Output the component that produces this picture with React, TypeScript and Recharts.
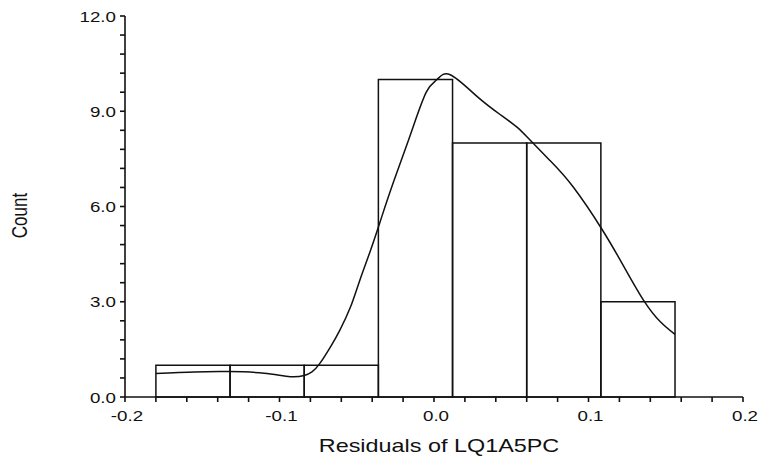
import React from "react";
import { ComposedChart, XAxis, YAxis, Line, ReferenceArea } from "recharts";

const binStarts = [-0.18, -0.132, -0.084, -0.036, 0.012, 0.06, 0.108];
const binEnds = [-0.132, -0.084, -0.036, 0.012, 0.06, 0.108, 0.156];
const counts = [1, 1, 1, 10, 8, 8, 3];

const curveX = [
  -0.18, -0.155, -0.133, -0.11, -0.093, -0.084, -0.079, -0.074, -0.067, -0.061,
  -0.054, -0.048, -0.041, -0.034, -0.026, -0.015, -0.005, 0.002, 0.0105, 0.028,
  0.043, 0.0537, 0.062, 0.075, 0.09, 0.109, 0.123, 0.136, 0.1465, 0.156,
];
const curveY = [
  0.74, 0.79, 0.8, 0.75, 0.64, 0.68, 0.79, 1.05, 1.58, 2.1,
  2.84, 3.68, 4.63, 5.65, 6.8, 8.3, 9.6, 10.0, 10.15, 9.46,
  8.89, 8.5, 8.1, 7.45, 6.62, 5.26, 4.1, 3.02, 2.37, 1.97,
];

const xTicks = [
  -0.2, -0.18, -0.16, -0.14, -0.12, -0.1, -0.08, -0.06, -0.04, -0.02, 0,
  0.02, 0.04, 0.06, 0.08, 0.1, 0.12, 0.14, 0.16, 0.18, 0.2,
];
const xLabels = ["-0.2", "-0.1", "0.0", "0.1", "0.2"];
const xLabelValues = [-0.2, -0.1, 0, 0.1, 0.2];

const yTicks = [
  0, 0.6, 1.2, 1.8, 2.4, 3, 3.6, 4.2, 4.8, 5.4, 6, 6.6, 7.2, 7.8, 8.4, 9,
  9.6, 10.2, 10.8, 11.4, 12,
];
const yLabels = ["0.0", "3.0", "6.0", "9.0", "12.0"];
const yLabelValues = [0, 3, 6, 9, 12];

const curveData = curveX.map((x, i) => ({ x, y: curveY[i] }));

const FONT = "'Liberation Sans', Arial, sans-serif";
const INK = "#111";

const findLabel = (vals: number[], labels: string[], v: number) => {
  const i = vals.findIndex((t) => Math.abs(t - v) < 1e-9);
  return i >= 0 ? labels[i] : null;
};

const XTick = (props: any) => {
  const { x, y, payload } = props;
  const lab = findLabel(xLabelValues, xLabels, payload.value);
  return (
    <g>
      <line x1={x} x2={x} y1={y - 7} y2={y - 2} stroke={INK} strokeWidth={1.6} />
      {lab && (
        <text
          transform={`translate(${x + 2},${y + 17}) scale(1.25,1)`}
          textAnchor="middle"
          fontFamily={FONT}
          fontSize={15}
          fill={INK}
        >
          {lab}
        </text>
      )}
    </g>
  );
};

const YTick = (props: any) => {
  const { x, y, payload } = props;
  const lab = findLabel(yLabelValues, yLabels, payload.value);
  return (
    <g>
      <line x1={x + 2} x2={x + 7} y1={y} y2={y} stroke={INK} strokeWidth={1.6} />
      {lab && (
        <text
          transform={`translate(${x - 2},${y + 5.5}) scale(1.25,1)`}
          textAnchor="end"
          fontFamily={FONT}
          fontSize={15}
          fill={INK}
        >
          {lab}
        </text>
      )}
    </g>
  );
};

const XTitle = (props: any) => {
  const vb = props.viewBox || {};
  const cx = vb.x + vb.width / 2 + 5;
  return (
    <text
      transform={`translate(${cx},${vb.y + 55}) scale(1.3,1)`}
      textAnchor="middle"
      fontFamily={FONT}
      fontSize={18}
      fill={INK}
    >
      Residuals of LQ1A5PC
    </text>
  );
};

const YTitle = (props: any) => {
  const vb = props.viewBox || {};
  const cy = vb.y + vb.height / 2 + 9;
  return (
    <text
      transform={`translate(${27},${cy}) scale(1.25,1) rotate(-90)`}
      textAnchor="middle"
      fontFamily={FONT}
      fontSize={17}
      fill={INK}
    >
      Count
    </text>
  );
};

export default function App() {
  return (
    <div style={{ position: "absolute", left: 0, top: 0, background: "#fff" }}>
      <ComposedChart
        width={761}
        height={464}
        margin={{ top: 16, right: 18, bottom: 0, left: 0 }}
        data={curveData}
      >
        <XAxis
          dataKey="x"
          type="number"
          domain={[-0.2, 0.2]}
          ticks={xTicks}
          interval={0}
          allowDataOverflow
          height={67}
          tickSize={5}
          stroke={INK}
          axisLine={{ stroke: INK, strokeWidth: 1.6 }}
          tickLine={false}
          tick={<XTick />}
          label={<XTitle />}
        />
        <YAxis
          type="number"
          domain={[0, 12]}
          ticks={yTicks}
          interval={0}
          allowDataOverflow
          width={125}
          tickSize={5}
          stroke={INK}
          axisLine={{ stroke: INK, strokeWidth: 1.6 }}
          tickLine={false}
          tick={<YTick />}
          label={<YTitle />}
        />
        {counts.map((c, i) => (
          <ReferenceArea
            key={i}
            x1={binStarts[i]}
            x2={binEnds[i]}
            y1={0}
            y2={c}
            fill="none"
            fillOpacity={0}
            stroke={INK}
            strokeWidth={1.5}
            strokeOpacity={1}
            ifOverflow="extendDomain"
          />
        ))}
        <Line
          dataKey="y"
          type="natural"
          stroke={INK}
          strokeWidth={1.5}
          dot={false}
          activeDot={false}
          isAnimationActive={false}
        />
      </ComposedChart>
    </div>
  );
}
